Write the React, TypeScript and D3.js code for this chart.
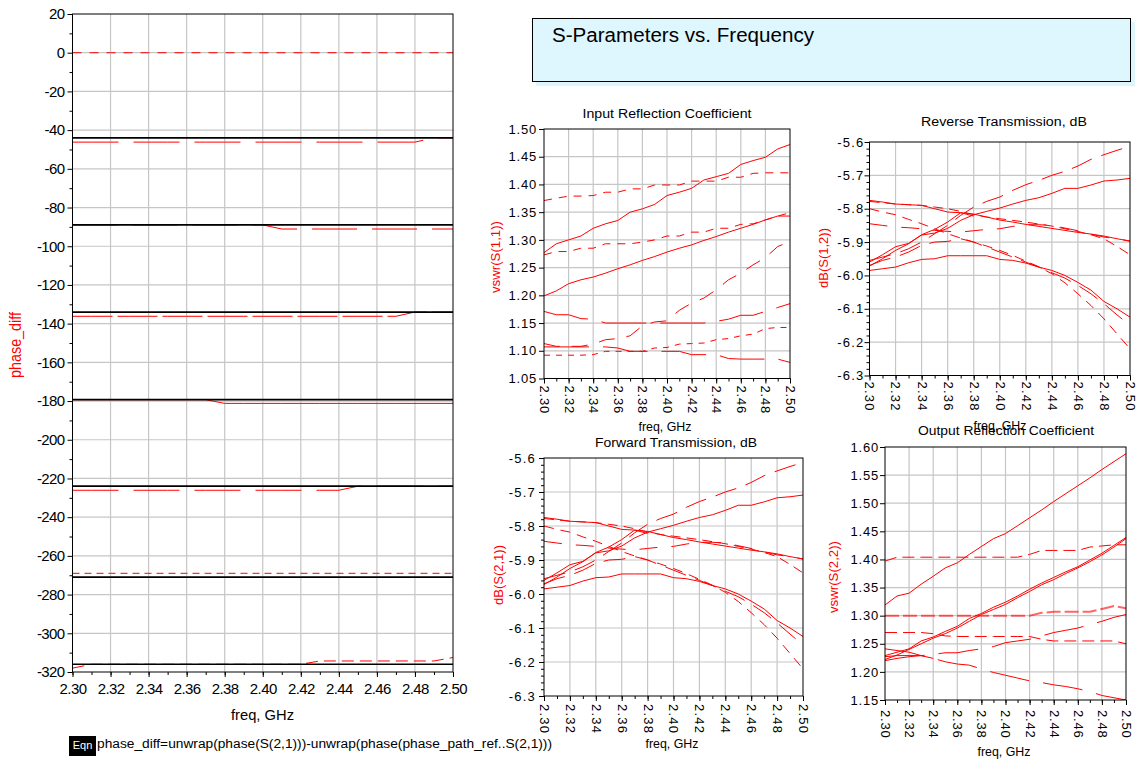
import { useEffect, useRef } from "react";
import * as d3 from "d3";

const FONT = "'Liberation Sans', Arial, Helvetica, sans-serif";
const RED = "#ff0000";
const GRID = "#c6c6c6";

// sweep frequency points, GHz
const freq = [2.3, 2.31, 2.32, 2.33, 2.34, 2.35, 2.36, 2.37, 2.38, 2.39, 2.4, 2.41, 2.42, 2.43, 2.44, 2.45, 2.46, 2.47, 2.48, 2.49, 2.5];
const freqTicks = [2.3, 2.32, 2.34, 2.36, 2.38, 2.4, 2.42, 2.44, 2.46, 2.48, 2.5];

// phase_diff plot
const phaseTicks = [20, 0, -20, -40, -60, -80, -100, -120, -140, -160, -180, -200, -220, -240, -260, -280, -300, -320];
const phaseRef = [-44, -89, -134, -179.3, -224, -271, -316];
const phase0 = [0, 0, 0, 0, 0, 0, 0, 0, 0, 0, 0, 0, 0, 0, 0, 0, 0, 0, 0, 0, 0];
const phase45 = [-46.2, -46.2, -46.2, -46.2, -46.2, -46.2, -46.2, -46.2, -46.2, -46.2, -46.2, -46.2, -46.2, -46.2, -46.2, -46.2, -46.2, -46.2, -46.2, -44, -44];
const phase90 = [-89, -89, -89, -89, -89, -89, -89, -89, -89, -89, -89, -91.1, -91.1, -91.1, -91.1, -91.1, -91.1, -91.1, -91.1, -91.1, -91.1];
const phase135 = [-136.2, -136.2, -136.2, -136.2, -136.2, -136.2, -136.2, -136.2, -136.2, -136.2, -136.2, -136.2, -136.2, -136.2, -136.2, -136.2, -136.2, -136.2, -134, -134, -134];
const phase180 = [-179.3, -179.3, -179.3, -179.3, -179.3, -179.3, -179.3, -179.3, -181.2, -181.2, -181.2, -181.2, -181.2, -181.2, -181.2, -181.2, -181.2, -181.2, -181.2, -181.2, -181.2];
const phase225 = [-226.1, -226.1, -226.1, -226.1, -226.1, -226.1, -226.1, -226.1, -226.1, -226.1, -226.1, -226.1, -226.1, -226.1, -226.1, -224, -224, -224, -224, -224, -224];
const phase270 = [-269, -269, -269, -269, -269, -269, -269, -269, -269, -269, -269, -269, -269, -269, -269, -269, -269, -269, -269, -269, -269];
const phase315 = [-318, -316, -316, -316, -316, -316, -316, -316, -316, -316, -316, -316, -316, -314.3, -314.3, -314.3, -314.3, -314.3, -314.3, -314.3, -312.5];

// Input reflection, vswr(S(1,1))
const vswrTicks1 = [1.05, 1.1, 1.15, 1.2, 1.25, 1.3, 1.35, 1.4, 1.45, 1.5];
const s11a = [1.277, 1.293, 1.3, 1.307, 1.321, 1.329, 1.335, 1.35, 1.356, 1.364, 1.38, 1.386, 1.393, 1.408, 1.414, 1.42, 1.436, 1.443, 1.449, 1.464, 1.472];
const s11b = [1.371, 1.375, 1.379, 1.379, 1.38, 1.386, 1.386, 1.392, 1.392, 1.399, 1.399, 1.399, 1.406, 1.406, 1.406, 1.413, 1.413, 1.42, 1.421, 1.421, 1.421];
const s11c = [1.199, 1.208, 1.221, 1.228, 1.233, 1.24, 1.248, 1.255, 1.263, 1.27, 1.278, 1.285, 1.291, 1.299, 1.306, 1.314, 1.321, 1.328, 1.336, 1.343, 1.343];
const s11d = [1.273, 1.279, 1.279, 1.285, 1.285, 1.293, 1.293, 1.293, 1.296, 1.3, 1.307, 1.307, 1.314, 1.314, 1.321, 1.321, 1.328, 1.329, 1.336, 1.343, 1.349];
const s11e = [1.113, 1.108, 1.108, 1.108, 1.112, 1.12, 1.122, 1.127, 1.145, 1.152, 1.154, 1.173, 1.186, 1.195, 1.21, 1.228, 1.24, 1.255, 1.268, 1.288, 1.297];
const s11f = [1.171, 1.165, 1.165, 1.158, 1.157, 1.15, 1.15, 1.15, 1.15, 1.15, 1.15, 1.15, 1.15, 1.15, 1.153, 1.157, 1.164, 1.164, 1.171, 1.178, 1.185];
const s11g = [1.107, 1.107, 1.107, 1.107, 1.107, 1.107, 1.105, 1.099, 1.099, 1.099, 1.099, 1.099, 1.093, 1.093, 1.093, 1.086, 1.085, 1.085, 1.085, 1.085, 1.079];
const s11h = [1.092, 1.092, 1.092, 1.092, 1.093, 1.099, 1.099, 1.099, 1.099, 1.105, 1.106, 1.112, 1.113, 1.114, 1.12, 1.122, 1.127, 1.13, 1.14, 1.142, 1.142];

// Forward / reverse transmission, dB
const dbTicks = [-6.3, -6.2, -6.1, -6.0, -5.9, -5.8, -5.7, -5.6];
const s21a = [-5.96, -5.938, -5.914, -5.904, -5.879, -5.873, -5.859, -5.835, -5.818, -5.808, -5.798, -5.786, -5.775, -5.767, -5.754, -5.739, -5.739, -5.729, -5.717, -5.714, -5.709];
const s21b = [-5.955, -5.945, -5.935, -5.92, -5.9, -5.875, -5.85, -5.82, -5.795, -5.778, -5.765, -5.745, -5.728, -5.715, -5.7, -5.688, -5.672, -5.652, -5.638, -5.625, -5.613];
const s21c = [-5.972, -5.95, -5.925, -5.905, -5.878, -5.862, -5.84, -5.812, -5.822, null, null, null, null, null, null, null, null, null, null, null, null];
const s21d = [-5.775, -5.78, -5.786, -5.788, -5.79, -5.8, -5.81, -5.812, -5.816, -5.825, -5.834, -5.84, -5.847, -5.853, -5.859, -5.865, -5.871, -5.876, -5.882, -5.89, -5.897];
const s21e = [-5.778, -5.782, -5.786, -5.788, -5.79, -5.795, -5.8, -5.808, -5.818, -5.825, -5.83, -5.835, -5.84, -5.846, -5.852, -5.86, -5.868, -5.878, -5.89, -5.913, -5.938];
const s21f = [-5.8, -5.81, -5.818, -5.832, -5.845, -5.86, -5.875, -5.888, -5.9, -5.912, -5.925, -5.94, -5.957, -5.974, -5.995, -6.022, -6.055, -6.09, -6.13, -6.175, -6.22];
const s21g = [-5.845, -5.85, -5.855, -5.857, -5.86, -5.865, -5.868, -5.87, -5.866, -5.862, -5.86, -5.853, -5.848, -5.848, -5.85, -5.858, -5.866, -5.876, -5.885, -5.89, -5.897];
const s21h = [-5.985, -5.98, -5.975, -5.962, -5.952, -5.95, -5.941, -5.941, -5.941, -5.941, -5.952, -5.955, -5.963, -5.975, -5.985, -6.0, -6.021, -6.044, -6.078, -6.1, -6.125];
const s21i = [-5.97, -5.955, -5.945, -5.93, -5.91, -5.9, -5.898, -5.89, -5.9, -5.915, -5.93, -5.945, -5.96, -5.975, -5.992, -6.008, -6.03, -6.055, -6.085, -6.118, -6.15];

// Output reflection, vswr(S(2,2))
const vswrTicks2 = [1.15, 1.2, 1.25, 1.3, 1.35, 1.4, 1.45, 1.5, 1.55, 1.6];
const s22a = [1.319, 1.335, 1.34, 1.356, 1.37, 1.385, 1.394, 1.409, 1.423, 1.437, 1.446, 1.46, 1.474, 1.488, 1.503, 1.517, 1.531, 1.545, 1.56, 1.574, 1.588];
const s22b = [1.397, 1.404, 1.404, 1.404, 1.404, 1.404, 1.404, 1.404, 1.404, 1.404, 1.404, 1.404, 1.409, 1.416, 1.416, 1.416, 1.416, 1.422, 1.424, 1.426, 1.426];
const s22c = [1.229, 1.235, 1.241, 1.255, 1.262, 1.272, 1.281, 1.295, 1.304, 1.315, 1.324, 1.335, 1.347, 1.358, 1.368, 1.378, 1.387, 1.399, 1.411, 1.425, 1.439];
const s22d = [1.222, 1.23, 1.24, 1.25, 1.26, 1.268, 1.278, 1.29, 1.302, 1.311, 1.32, 1.332, 1.343, 1.355, 1.364, 1.375, 1.385, 1.396, 1.408, 1.422, 1.437];
const s22e = [1.3, 1.3, 1.3, 1.3, 1.3, 1.3, 1.3, 1.3, 1.3, 1.3, 1.3, 1.3, 1.3, 1.305, 1.307, 1.307, 1.307, 1.307, 1.312, 1.317, 1.313];
const s22f = [1.27, 1.27, 1.27, 1.27, 1.268, 1.264, 1.263, 1.263, 1.263, 1.263, 1.263, 1.263, 1.263, 1.258, 1.255, 1.255, 1.255, 1.255, 1.255, 1.255, 1.25];
const s22g = [1.241, 1.238, 1.235, 1.229, 1.224, 1.218, 1.214, 1.212, 1.205, 1.199, 1.194, 1.189, 1.184, 1.181, 1.177, 1.174, 1.17, 1.165, 1.158, 1.154, 1.15];
const s22h = [1.22, 1.224, 1.227, 1.229, 1.231, 1.234, 1.234, 1.238, 1.241, 1.245, 1.252, 1.255, 1.258, 1.264, 1.27, 1.274, 1.278, 1.284, 1.29, 1.297, 1.302];
const s22i = [1.227, 1.229, 1.229, 1.229, 1.224, null, null, null, null, null, null, null, null, null, null, null, null, null, null, null, null];

const transSeries = [
  { v: s21a, dash: "" },
  { v: s21b, dash: "22,10" },
  { v: s21c, dash: "" },
  { v: s21d, dash: "" },
  { v: s21e, dash: "10,6" },
  { v: s21f, dash: "10,7" },
  { v: s21g, dash: "18,14" },
  { v: s21h, dash: "" },
  { v: s21i, dash: "22,10" },
];

const fixed = (n) => (d) => d.toFixed(n);

function drawPanel(svg, c) {
  const x = d3.scaleLinear().domain([2.3, 2.5]).range([c.left, c.right]);
  const y = d3.scaleLinear().domain(c.yDomain).range([c.bottom, c.top]);
  const g = svg.append("g");
  const [ylo, yhi] = c.yDomain;

  svg.append("clipPath").attr("id", "clip-" + c.id)
    .append("rect").attr("x", c.left).attr("y", c.top)
    .attr("width", c.right - c.left).attr("height", c.bottom - c.top);

  // grid
  g.append("g").selectAll("line").data(freqTicks.slice(1, -1)).join("line")
    .attr("x1", (d) => x(d)).attr("x2", (d) => x(d))
    .attr("y1", c.top).attr("y2", c.bottom)
    .attr("stroke", GRID).attr("stroke-width", 1.2);
  g.append("g").selectAll("line")
    .data(c.yTicks.filter((d) => Math.abs(d - ylo) > 1e-6 && Math.abs(d - yhi) > 1e-6))
    .join("line")
    .attr("x1", c.left).attr("x2", c.right)
    .attr("y1", (d) => y(d)).attr("y2", (d) => y(d))
    .attr("stroke", GRID).attr("stroke-width", 1.2);

  // traces
  const line = d3.line()
    .defined((d) => d[1] !== null)
    .x((d) => x(d[0]))
    .y((d) => y(d[1]));
  const plot = g.append("g").attr("clip-path", `url(#clip-${c.id})`);
  c.series.forEach((s) => {
    plot.append("path")
      .attr("d", line(freq.map((f, i) => [f, s.v[i]])))
      .attr("fill", "none")
      .attr("stroke", s.color || RED)
      .attr("stroke-width", s.w || 1)
      .attr("stroke-opacity", s.op || 1)
      .attr("stroke-dasharray", s.dash || null);
  });
  (c.refs || []).forEach((lv) => {
    plot.append("line")
      .attr("x1", x(2.3)).attr("x2", x(2.5))
      .attr("y1", y(lv)).attr("y2", y(lv))
      .attr("stroke", "#000").attr("stroke-width", 1.7);
  });

  // frame
  g.append("rect")
    .attr("x", c.left).attr("y", c.top)
    .attr("width", c.right - c.left).attr("height", c.bottom - c.top)
    .attr("fill", "none").attr("stroke", "#000").attr("stroke-width", 1);

  // y axis
  const yAxis = g.append("g").attr("transform", `translate(${c.left},0)`)
    .call(d3.axisLeft(y).tickValues(c.yTicks).tickSize(5).tickPadding(c.yPad).tickFormat(c.yFormat));
  yAxis.select(".domain").remove();
  yAxis.attr("font-family", FONT).attr("font-size", c.fs);
  yAxis.selectAll("text").attr("fill", "#000").style("letter-spacing", c.ls + "px");
  if (c.yMinor) {
    g.append("g").attr("transform", `translate(${c.left},0)`)
      .call(d3.axisLeft(y).tickValues(c.yMinor).tickSize(3).tickFormat(() => ""))
      .select(".domain").remove();
  }

  // x axis
  const xAxis = g.append("g").attr("transform", `translate(0,${c.bottom})`)
    .call(d3.axisBottom(x).tickValues(freqTicks).tickSize(5).tickPadding(c.xPad).tickFormat(fixed(2)));
  xAxis.select(".domain").remove();
  xAxis.attr("font-family", FONT).attr("font-size", c.fs);
  xAxis.selectAll("text").attr("fill", "#000").style("letter-spacing", c.ls + "px");
  if (c.rotate) {
    xAxis.selectAll("text")
      .attr("transform", "rotate(90)")
      .attr("x", c.xPad)
      .attr("y", 0)
      .attr("dy", "0.35em")
      .attr("text-anchor", "start");
  }
  g.append("g").attr("transform", `translate(0,${c.bottom})`)
    .call(d3.axisBottom(x).tickValues(freq).tickSize(3).tickFormat(() => ""))
    .select(".domain").remove();

  // labels
  const lab = (txt, px, py, size, len, color, rot) => {
    const t = svg.append("text")
      .attr("x", px).attr("y", py)
      .attr("text-anchor", "middle")
      .attr("dominant-baseline", "middle")
      .attr("font-family", FONT).attr("font-size", size)
      .attr("fill", color)
      .attr("textLength", len).attr("lengthAdjust", "spacingAndGlyphs")
      .text(txt);
    if (rot) t.attr("transform", `rotate(-90,${px},${py})`);
  };
  if (c.title) lab(c.title, c.titlePos[0], c.titlePos[1], 12.5, c.titleLen, "#000", false);
  lab("freq, GHz", c.freqPos[0], c.freqPos[1], c.freqSize, c.freqLen, "#000", false);
  lab(c.yLabel, c.yLabelPos[0], c.yLabelPos[1], c.yLabelSize, c.yLabelLen, RED, true);
}

export default function App() {
  const svgRef = useRef(null);

  useEffect(() => {
    const svg = d3.select(svgRef.current);
    svg.selectAll("*").remove();
    svg.append("rect").attr("width", 1138).attr("height", 761).attr("fill", "#fff");

    // header box
    svg.append("rect").attr("x", 536).attr("y", 22).attr("width", 599).attr("height", 64).attr("fill", "#dcf6fc");
    svg.append("rect").attr("x", 532.5).attr("y", 18.5).attr("width", 598).attr("height", 63)
      .attr("fill", "#def6fd").attr("stroke", "#000").attr("stroke-width", 1);
    svg.append("text").attr("x", 552).attr("y", 42)
      .attr("font-family", FONT).attr("font-size", 20)
      .attr("textLength", 262).attr("lengthAdjust", "spacingAndGlyphs")
      .text("S-Parameters vs. Frequency");

    const minorPhase = d3.range(10, -320, -20);
    const minorDb = d3.range(-6.28, -5.605, 0.02).filter((d) => Math.abs(d * 10 - Math.round(d * 10)) > 0.01);

    drawPanel(svg, {
      id: "phase", left: 72.5, right: 453, top: 14, bottom: 672,
      yDomain: [-320, 20], yTicks: phaseTicks, yMinor: minorPhase, yFormat: (d) => String(d),
      fs: 15, ls: -0.6, yPad: 3, xPad: 6, rotate: false,
      freqPos: [262.5, 716], freqSize: 15, freqLen: 63,
      yLabel: "phase_diff", yLabelPos: [17, 345], yLabelSize: 16, yLabelLen: 66,
      series: [
        { v: phase0, dash: "9,8" },
        { v: phase45, dash: "46,15" },
        { v: phase90, dash: "45,15" },
        { v: phase135, dash: "40,5" },
        { v: phase180, dash: "" },
        { v: phase225, dash: "46,15" },
        { v: phase270, dash: "7,5" },
        { v: phase315, dash: "12,6" },
      ],
      refs: phaseRef,
    });

    drawPanel(svg, {
      id: "s11", left: 544, right: 790, top: 129, bottom: 378.5,
      yDomain: [1.05, 1.5], yTicks: vswrTicks1, yFormat: fixed(2),
      fs: 13, ls: 0.8, yPad: 2, xPad: 7, rotate: true,
      title: "Input Reflection Coefficient", titlePos: [667, 115], titleLen: 169,
      freqPos: [665, 428], freqSize: 12.5, freqLen: 53,
      yLabel: "vswr(S(1,1))", yLabelPos: [497, 257], yLabelSize: 12.5, yLabelLen: 72,
      series: [
        { v: s11a, dash: "" },
        { v: s11b, dash: "8,7" },
        { v: s11c, dash: "" },
        { v: s11d, dash: "8,7" },
        { v: s11e, dash: "16,12" },
        { v: s11f, dash: "45,14" },
        { v: s11g, dash: "45,14" },
        { v: s11h, dash: "6,6" },
      ],
    });

    drawPanel(svg, {
      id: "s12", left: 869.5, right: 1130, top: 142, bottom: 375.5,
      yDomain: [-6.3, -5.6], yTicks: dbTicks, yMinor: minorDb, yFormat: fixed(1),
      fs: 13, ls: 1.2, yPad: 0, xPad: 6, rotate: true,
      title: "Reverse Transmission, dB", titlePos: [1004, 123], titleLen: 166,
      freqPos: [1000, 427], freqSize: 12.5, freqLen: 53,
      yLabel: "dB(S(1,2))", yLabelPos: [825, 258], yLabelSize: 12.5, yLabelLen: 60,
      series: transSeries,
    });

    drawPanel(svg, {
      id: "s21", left: 544, right: 803, top: 458, bottom: 696,
      yDomain: [-6.3, -5.6], yTicks: dbTicks, yMinor: minorDb, yFormat: fixed(1),
      fs: 13, ls: 1.2, yPad: 3, xPad: 8, rotate: true,
      title: "Forward Transmission, dB", titlePos: [676, 444], titleLen: 162,
      freqPos: [672, 745], freqSize: 12.5, freqLen: 53,
      yLabel: "dB(S(2,1))", yLabelPos: [500, 575], yLabelSize: 12.5, yLabelLen: 60,
      series: transSeries,
    });

    drawPanel(svg, {
      id: "s22", left: 885, right: 1126, top: 447, bottom: 700,
      yDomain: [1.15, 1.6], yTicks: vswrTicks2, yFormat: fixed(2),
      fs: 13, ls: 0.8, yPad: 1, xPad: 10, rotate: true,
      title: "Output Reflection Coefficient", titlePos: [1006, 432], titleLen: 176,
      freqPos: [1004, 753], freqSize: 12.5, freqLen: 53,
      yLabel: "vswr(S(2,2))", yLabelPos: [835, 577], yLabelSize: 12.5, yLabelLen: 72,
      series: [
        { v: s22a, dash: "" },
        { v: s22b, dash: "12,6" },
        { v: s22c, dash: "" },
        { v: s22d, dash: "" },
        { v: s22e, dash: "14,4", w: 2, op: 0.6 },
        { v: s22f, dash: "12,6" },
        { v: s22g, dash: "40,14" },
        { v: s22h, dash: "40,14" },
        { v: s22i, dash: "" },
      ],
    });

    // equation block
    svg.append("rect").attr("x", 69).attr("y", 736).attr("width", 27).attr("height", 20).attr("fill", "#000");
    svg.append("text").attr("x", 82.5).attr("y", 746.5)
      .attr("text-anchor", "middle").attr("dominant-baseline", "middle")
      .attr("font-family", FONT).attr("font-size", 11).attr("fill", "#fff")
      .text("Eqn");
    svg.append("text").attr("x", 97).attr("y", 745)
      .attr("dominant-baseline", "middle")
      .attr("font-family", FONT).attr("font-size", 12.5).attr("fill", "#000")
      .attr("textLength", 455).attr("lengthAdjust", "spacingAndGlyphs")
      .text("phase_diff=unwrap(phase(S(2,1)))-unwrap(phase(phase_path_ref..S(2,1)))");
  }, []);

  return (
    <svg
      ref={svgRef}
      width={1138}
      height={761}
      style={{ position: "absolute", left: 0, top: 0 }}
    ></svg>
  );
}
